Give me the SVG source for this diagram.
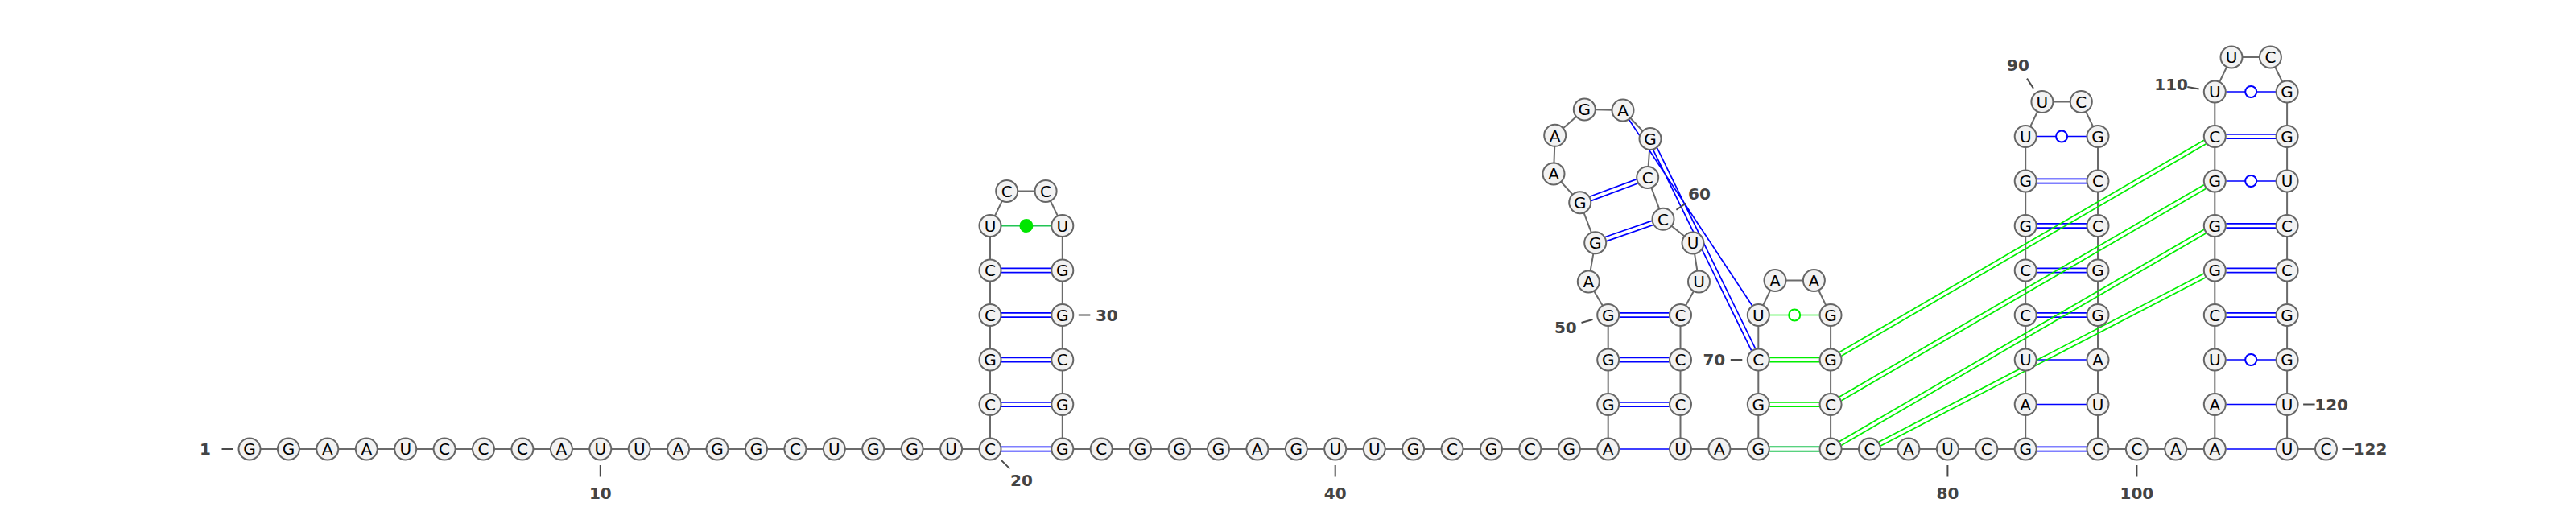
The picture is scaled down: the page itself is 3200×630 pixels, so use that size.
<svg xmlns="http://www.w3.org/2000/svg" width="3200" height="630" viewBox="0 0 3200 630">
<style>
.bb{fill:none;stroke:#6b6b6b;stroke-width:2}
.bp{stroke:#0000ff;stroke-width:1.7;fill:none}
.gp{stroke:#00ee00;stroke-width:1.7;fill:none}
.gd{stroke:#22c455;stroke-width:1.9;fill:none}
.wb{fill:#ffffff;stroke:#0000ff;stroke-width:2}
.wg{fill:#ffffff;stroke:#00ee00;stroke-width:2}
.nt circle{fill:#f2f2f2;stroke:#666666;stroke-width:2}
.nt text{font-family:"DejaVu Sans","Liberation Sans",sans-serif;font-size:20px;fill:#000;text-anchor:middle}
.lb line{stroke:#4a4a4a;stroke-width:2}
.lb text{font-family:"DejaVu Sans","Liberation Sans",sans-serif;font-size:20px;font-weight:bold;fill:#444;text-anchor:middle}
</style>
<rect width="3200" height="630" fill="#ffffff"/>
<g id="connectors">
<polyline class="bb" points="310,558 358.4,558 406.8,558 455.3,558 503.7,558 552.1,558 600.5,558 648.9,558 697.4,558 745.8,558 794.2,558 842.6,558 891,558 939.5,558 987.9,558 1036.3,558 1084.7,558 1133.1,558 1181.6,558 1230,558 1230,502.5 1230,447 1230,391.5 1230,336 1230,280.5 1250.7,237.5 1299.1,237.5 1319.8,280.5 1319.8,336 1319.8,391.5 1319.8,447 1319.8,502.5 1319.8,558 1368.2,558 1416.6,558 1465.1,558 1513.5,558 1561.9,558 1610.3,558 1658.7,558 1707.2,558 1755.6,558 1804,558 1852.4,558 1900.8,558 1949.3,558 1997.7,558 1997.7,502.5 1997.7,447 1997.7,391.5 1973.3,350 1981.7,301.7 1962.7,251.7 1930,216 1931.7,168.3 1968.3,136 2016,137 2050,172.5 2046.7,220.5 2066,272.3 2103,302 2110.5,350 2087.5,391.5 2087.5,447 2087.5,502.5 2087.5,558 2135.9,558 2184.3,558 2184.3,502.5 2184.3,447 2184.3,391.5 2205,348.5 2253.4,348.5 2274.1,391.5 2274.1,447 2274.1,502.5 2274.1,558 2322.5,558 2370.9,558 2419.4,558 2467.8,558 2516.2,558 2516.2,502.5 2516.2,447 2516.2,391.5 2516.2,336 2516.2,280.5 2516.2,225 2516.2,169.5 2536.9,126.5 2585.3,126.5 2606,169.5 2606,225 2606,280.5 2606,336 2606,391.5 2606,447 2606,502.5 2606,558 2654.4,558 2702.8,558 2751.3,558 2751.3,502.5 2751.3,447 2751.3,391.5 2751.3,336 2751.3,280.5 2751.3,225 2751.3,169.5 2751.3,114 2772,71 2820.4,71 2841.1,114 2841.1,169.5 2841.1,225 2841.1,280.5 2841.1,336 2841.1,391.5 2841.1,447 2841.1,502.5 2841.1,558 2889.5,558"/>
<!-- stem 1 -->
<path class="bp" d="M1244,555.3H1305.8M1244,560.7H1305.8M1244,499.8H1305.8M1244,505.2H1305.8M1244,444.3H1305.8M1244,449.7H1305.8M1244,388.8H1305.8M1244,394.2H1305.8M1244,333.3H1305.8M1244,338.7H1305.8"/>
<path class="gd" d="M1244,280.5H1305.8"/>
<circle cx="1274.9" cy="280.5" r="8.5" fill="#00e600"/>
<!-- stem 2 -->
<path class="bp" d="M2011.7,558H2073.5M2011.7,499.8H2073.5M2011.7,505.2H2073.5M2011.7,444.3H2073.5M2011.7,449.7H2073.5M2011.7,388.8H2073.5M2011.7,394.2H2073.5"/>
<path class="bp" d="M1976.74,249.33L2034.54,227.93M1974.86,244.27L2032.66,222.87M1995.81,299.64L2053.67,279.46M1994.03,294.54L2051.89,274.36"/>
<path class="bp" d="M2023.7,148.7L2176.6,379.8M2053.72,186.26L2175.72,435.62M2058.58,183.88L2180.58,433.24"/>
<!-- stem 4 -->
<path class="bp" d="M2530.2,555.3H2592M2530.2,560.7H2592M2530.2,502.5H2592M2530.2,447H2592M2530.2,388.8H2592M2530.2,394.2H2592M2530.2,333.3H2592M2530.2,338.7H2592M2530.2,277.8H2592M2530.2,283.2H2592M2530.2,222.3H2592M2530.2,227.7H2592M2530.2,169.5H2592"/>
<circle class="wb" cx="2561.1" cy="169.5" r="7"/>
<!-- stem 5 -->
<path class="bp" d="M2765.3,558H2827.1M2765.3,502.5H2827.1M2765.3,447H2827.1M2765.3,388.8H2827.1M2765.3,394.2H2827.1M2765.3,333.3H2827.1M2765.3,338.7H2827.1M2765.3,277.8H2827.1M2765.3,283.2H2827.1M2765.3,225H2827.1M2765.3,166.8H2827.1M2765.3,172.2H2827.1M2765.3,114H2827.1"/>
<circle class="wb" cx="2796.2" cy="447" r="7"/>
<circle class="wb" cx="2796.2" cy="225" r="7"/>
<circle class="wb" cx="2796.2" cy="114" r="7"/>
<!-- stem 3 (green) -->
<path class="gd" d="M2198.3,555.3H2260.1M2198.3,560.7H2260.1"/>
<path class="gp" d="M2198.3,499.8H2260.1M2198.3,505.2H2260.1M2198.3,444.3H2260.1M2198.3,449.7H2260.1M2198.3,391.5H2260.1"/>
<circle class="wg" cx="2229.2" cy="391.5" r="7"/>
<!-- long green pseudoknot -->
<path class="gp" d="M2287.56,442.33L2740.56,178.83M2284.84,437.67L2737.84,174.17M2287.56,497.83L2740.56,234.33M2284.84,493.17L2737.84,229.67M2287.56,553.33L2740.56,289.83M2284.84,548.67L2737.84,285.17M2336.17,553.96L2740.11,344.84M2333.69,549.16L2737.63,340.04"/>
</g>
<g id="n1" class="nt"><circle cx="310" cy="558" r="13.5"/><text x="310" y="565.2">G</text></g>
<g id="n2" class="nt"><circle cx="358.4" cy="558" r="13.5"/><text x="358.4" y="565.2">G</text></g>
<g id="n3" class="nt"><circle cx="406.8" cy="558" r="13.5"/><text x="406.8" y="565.2">A</text></g>
<g id="n4" class="nt"><circle cx="455.3" cy="558" r="13.5"/><text x="455.3" y="565.2">A</text></g>
<g id="n5" class="nt"><circle cx="503.7" cy="558" r="13.5"/><text x="503.7" y="565.2">U</text></g>
<g id="n6" class="nt"><circle cx="552.1" cy="558" r="13.5"/><text x="552.1" y="565.2">C</text></g>
<g id="n7" class="nt"><circle cx="600.5" cy="558" r="13.5"/><text x="600.5" y="565.2">C</text></g>
<g id="n8" class="nt"><circle cx="648.9" cy="558" r="13.5"/><text x="648.9" y="565.2">C</text></g>
<g id="n9" class="nt"><circle cx="697.4" cy="558" r="13.5"/><text x="697.4" y="565.2">A</text></g>
<g id="n10" class="nt"><circle cx="745.8" cy="558" r="13.5"/><text x="745.8" y="565.2">U</text></g>
<g id="n11" class="nt"><circle cx="794.2" cy="558" r="13.5"/><text x="794.2" y="565.2">U</text></g>
<g id="n12" class="nt"><circle cx="842.6" cy="558" r="13.5"/><text x="842.6" y="565.2">A</text></g>
<g id="n13" class="nt"><circle cx="891" cy="558" r="13.5"/><text x="891" y="565.2">G</text></g>
<g id="n14" class="nt"><circle cx="939.5" cy="558" r="13.5"/><text x="939.5" y="565.2">G</text></g>
<g id="n15" class="nt"><circle cx="987.9" cy="558" r="13.5"/><text x="987.9" y="565.2">C</text></g>
<g id="n16" class="nt"><circle cx="1036.3" cy="558" r="13.5"/><text x="1036.3" y="565.2">U</text></g>
<g id="n17" class="nt"><circle cx="1084.7" cy="558" r="13.5"/><text x="1084.7" y="565.2">G</text></g>
<g id="n18" class="nt"><circle cx="1133.1" cy="558" r="13.5"/><text x="1133.1" y="565.2">G</text></g>
<g id="n19" class="nt"><circle cx="1181.6" cy="558" r="13.5"/><text x="1181.6" y="565.2">U</text></g>
<g id="n20" class="nt"><circle cx="1230" cy="558" r="13.5"/><text x="1230" y="565.2">C</text></g>
<g id="n21" class="nt"><circle cx="1230" cy="502.5" r="13.5"/><text x="1230" y="509.7">C</text></g>
<g id="n22" class="nt"><circle cx="1230" cy="447" r="13.5"/><text x="1230" y="454.2">G</text></g>
<g id="n23" class="nt"><circle cx="1230" cy="391.5" r="13.5"/><text x="1230" y="398.7">C</text></g>
<g id="n24" class="nt"><circle cx="1230" cy="336" r="13.5"/><text x="1230" y="343.2">C</text></g>
<g id="n25" class="nt"><circle cx="1230" cy="280.5" r="13.5"/><text x="1230" y="287.7">U</text></g>
<g id="n26" class="nt"><circle cx="1250.7" cy="237.5" r="13.5"/><text x="1250.7" y="244.7">C</text></g>
<g id="n27" class="nt"><circle cx="1299.1" cy="237.5" r="13.5"/><text x="1299.1" y="244.7">C</text></g>
<g id="n28" class="nt"><circle cx="1319.8" cy="280.5" r="13.5"/><text x="1319.8" y="287.7">U</text></g>
<g id="n29" class="nt"><circle cx="1319.8" cy="336" r="13.5"/><text x="1319.8" y="343.2">G</text></g>
<g id="n30" class="nt"><circle cx="1319.8" cy="391.5" r="13.5"/><text x="1319.8" y="398.7">G</text></g>
<g id="n31" class="nt"><circle cx="1319.8" cy="447" r="13.5"/><text x="1319.8" y="454.2">C</text></g>
<g id="n32" class="nt"><circle cx="1319.8" cy="502.5" r="13.5"/><text x="1319.8" y="509.7">G</text></g>
<g id="n33" class="nt"><circle cx="1319.8" cy="558" r="13.5"/><text x="1319.8" y="565.2">G</text></g>
<g id="n34" class="nt"><circle cx="1368.2" cy="558" r="13.5"/><text x="1368.2" y="565.2">C</text></g>
<g id="n35" class="nt"><circle cx="1416.6" cy="558" r="13.5"/><text x="1416.6" y="565.2">G</text></g>
<g id="n36" class="nt"><circle cx="1465.1" cy="558" r="13.5"/><text x="1465.1" y="565.2">G</text></g>
<g id="n37" class="nt"><circle cx="1513.5" cy="558" r="13.5"/><text x="1513.5" y="565.2">G</text></g>
<g id="n38" class="nt"><circle cx="1561.9" cy="558" r="13.5"/><text x="1561.9" y="565.2">A</text></g>
<g id="n39" class="nt"><circle cx="1610.3" cy="558" r="13.5"/><text x="1610.3" y="565.2">G</text></g>
<g id="n40" class="nt"><circle cx="1658.7" cy="558" r="13.5"/><text x="1658.7" y="565.2">U</text></g>
<g id="n41" class="nt"><circle cx="1707.2" cy="558" r="13.5"/><text x="1707.2" y="565.2">U</text></g>
<g id="n42" class="nt"><circle cx="1755.6" cy="558" r="13.5"/><text x="1755.6" y="565.2">G</text></g>
<g id="n43" class="nt"><circle cx="1804" cy="558" r="13.5"/><text x="1804" y="565.2">C</text></g>
<g id="n44" class="nt"><circle cx="1852.4" cy="558" r="13.5"/><text x="1852.4" y="565.2">G</text></g>
<g id="n45" class="nt"><circle cx="1900.8" cy="558" r="13.5"/><text x="1900.8" y="565.2">C</text></g>
<g id="n46" class="nt"><circle cx="1949.3" cy="558" r="13.5"/><text x="1949.3" y="565.2">G</text></g>
<g id="n47" class="nt"><circle cx="1997.7" cy="558" r="13.5"/><text x="1997.7" y="565.2">A</text></g>
<g id="n48" class="nt"><circle cx="1997.7" cy="502.5" r="13.5"/><text x="1997.7" y="509.7">G</text></g>
<g id="n49" class="nt"><circle cx="1997.7" cy="447" r="13.5"/><text x="1997.7" y="454.2">G</text></g>
<g id="n50" class="nt"><circle cx="1997.7" cy="391.5" r="13.5"/><text x="1997.7" y="398.7">G</text></g>
<g id="n51" class="nt"><circle cx="1973.3" cy="350" r="13.5"/><text x="1973.3" y="357.2">A</text></g>
<g id="n52" class="nt"><circle cx="1981.7" cy="301.7" r="13.5"/><text x="1981.7" y="308.9">G</text></g>
<g id="n53" class="nt"><circle cx="1962.7" cy="251.7" r="13.5"/><text x="1962.7" y="258.9">G</text></g>
<g id="n54" class="nt"><circle cx="1930" cy="216" r="13.5"/><text x="1930" y="223.2">A</text></g>
<g id="n55" class="nt"><circle cx="1931.7" cy="168.3" r="13.5"/><text x="1931.7" y="175.5">A</text></g>
<g id="n56" class="nt"><circle cx="1968.3" cy="136" r="13.5"/><text x="1968.3" y="143.2">G</text></g>
<g id="n57" class="nt"><circle cx="2016" cy="137" r="13.5"/><text x="2016" y="144.2">A</text></g>
<g id="n58" class="nt"><circle cx="2050" cy="172.5" r="13.5"/><text x="2050" y="179.7">G</text></g>
<g id="n59" class="nt"><circle cx="2046.7" cy="220.5" r="13.5"/><text x="2046.7" y="227.7">C</text></g>
<g id="n60" class="nt"><circle cx="2066" cy="272.3" r="13.5"/><text x="2066" y="279.5">C</text></g>
<g id="n61" class="nt"><circle cx="2103" cy="302" r="13.5"/><text x="2103" y="309.2">U</text></g>
<g id="n62" class="nt"><circle cx="2110.5" cy="350" r="13.5"/><text x="2110.5" y="357.2">U</text></g>
<g id="n63" class="nt"><circle cx="2087.5" cy="391.5" r="13.5"/><text x="2087.5" y="398.7">C</text></g>
<g id="n64" class="nt"><circle cx="2087.5" cy="447" r="13.5"/><text x="2087.5" y="454.2">C</text></g>
<g id="n65" class="nt"><circle cx="2087.5" cy="502.5" r="13.5"/><text x="2087.5" y="509.7">C</text></g>
<g id="n66" class="nt"><circle cx="2087.5" cy="558" r="13.5"/><text x="2087.5" y="565.2">U</text></g>
<g id="n67" class="nt"><circle cx="2135.9" cy="558" r="13.5"/><text x="2135.9" y="565.2">A</text></g>
<g id="n68" class="nt"><circle cx="2184.3" cy="558" r="13.5"/><text x="2184.3" y="565.2">G</text></g>
<g id="n69" class="nt"><circle cx="2184.3" cy="502.5" r="13.5"/><text x="2184.3" y="509.7">G</text></g>
<g id="n70" class="nt"><circle cx="2184.3" cy="447" r="13.5"/><text x="2184.3" y="454.2">C</text></g>
<g id="n71" class="nt"><circle cx="2184.3" cy="391.5" r="13.5"/><text x="2184.3" y="398.7">U</text></g>
<g id="n72" class="nt"><circle cx="2205" cy="348.5" r="13.5"/><text x="2205" y="355.7">A</text></g>
<g id="n73" class="nt"><circle cx="2253.4" cy="348.5" r="13.5"/><text x="2253.4" y="355.7">A</text></g>
<g id="n74" class="nt"><circle cx="2274.1" cy="391.5" r="13.5"/><text x="2274.1" y="398.7">G</text></g>
<g id="n75" class="nt"><circle cx="2274.1" cy="447" r="13.5"/><text x="2274.1" y="454.2">G</text></g>
<g id="n76" class="nt"><circle cx="2274.1" cy="502.5" r="13.5"/><text x="2274.1" y="509.7">C</text></g>
<g id="n77" class="nt"><circle cx="2274.1" cy="558" r="13.5"/><text x="2274.1" y="565.2">C</text></g>
<g id="n78" class="nt"><circle cx="2322.5" cy="558" r="13.5"/><text x="2322.5" y="565.2">C</text></g>
<g id="n79" class="nt"><circle cx="2370.9" cy="558" r="13.5"/><text x="2370.9" y="565.2">A</text></g>
<g id="n80" class="nt"><circle cx="2419.4" cy="558" r="13.5"/><text x="2419.4" y="565.2">U</text></g>
<g id="n81" class="nt"><circle cx="2467.8" cy="558" r="13.5"/><text x="2467.8" y="565.2">C</text></g>
<g id="n82" class="nt"><circle cx="2516.2" cy="558" r="13.5"/><text x="2516.2" y="565.2">G</text></g>
<g id="n83" class="nt"><circle cx="2516.2" cy="502.5" r="13.5"/><text x="2516.2" y="509.7">A</text></g>
<g id="n84" class="nt"><circle cx="2516.2" cy="447" r="13.5"/><text x="2516.2" y="454.2">U</text></g>
<g id="n85" class="nt"><circle cx="2516.2" cy="391.5" r="13.5"/><text x="2516.2" y="398.7">C</text></g>
<g id="n86" class="nt"><circle cx="2516.2" cy="336" r="13.5"/><text x="2516.2" y="343.2">C</text></g>
<g id="n87" class="nt"><circle cx="2516.2" cy="280.5" r="13.5"/><text x="2516.2" y="287.7">G</text></g>
<g id="n88" class="nt"><circle cx="2516.2" cy="225" r="13.5"/><text x="2516.2" y="232.2">G</text></g>
<g id="n89" class="nt"><circle cx="2516.2" cy="169.5" r="13.5"/><text x="2516.2" y="176.7">U</text></g>
<g id="n90" class="nt"><circle cx="2536.9" cy="126.5" r="13.5"/><text x="2536.9" y="133.7">U</text></g>
<g id="n91" class="nt"><circle cx="2585.3" cy="126.5" r="13.5"/><text x="2585.3" y="133.7">C</text></g>
<g id="n92" class="nt"><circle cx="2606" cy="169.5" r="13.5"/><text x="2606" y="176.7">G</text></g>
<g id="n93" class="nt"><circle cx="2606" cy="225" r="13.5"/><text x="2606" y="232.2">C</text></g>
<g id="n94" class="nt"><circle cx="2606" cy="280.5" r="13.5"/><text x="2606" y="287.7">C</text></g>
<g id="n95" class="nt"><circle cx="2606" cy="336" r="13.5"/><text x="2606" y="343.2">G</text></g>
<g id="n96" class="nt"><circle cx="2606" cy="391.5" r="13.5"/><text x="2606" y="398.7">G</text></g>
<g id="n97" class="nt"><circle cx="2606" cy="447" r="13.5"/><text x="2606" y="454.2">A</text></g>
<g id="n98" class="nt"><circle cx="2606" cy="502.5" r="13.5"/><text x="2606" y="509.7">U</text></g>
<g id="n99" class="nt"><circle cx="2606" cy="558" r="13.5"/><text x="2606" y="565.2">C</text></g>
<g id="n100" class="nt"><circle cx="2654.4" cy="558" r="13.5"/><text x="2654.4" y="565.2">C</text></g>
<g id="n101" class="nt"><circle cx="2702.8" cy="558" r="13.5"/><text x="2702.8" y="565.2">A</text></g>
<g id="n102" class="nt"><circle cx="2751.3" cy="558" r="13.5"/><text x="2751.3" y="565.2">A</text></g>
<g id="n103" class="nt"><circle cx="2751.3" cy="502.5" r="13.5"/><text x="2751.3" y="509.7">A</text></g>
<g id="n104" class="nt"><circle cx="2751.3" cy="447" r="13.5"/><text x="2751.3" y="454.2">U</text></g>
<g id="n105" class="nt"><circle cx="2751.3" cy="391.5" r="13.5"/><text x="2751.3" y="398.7">C</text></g>
<g id="n106" class="nt"><circle cx="2751.3" cy="336" r="13.5"/><text x="2751.3" y="343.2">G</text></g>
<g id="n107" class="nt"><circle cx="2751.3" cy="280.5" r="13.5"/><text x="2751.3" y="287.7">G</text></g>
<g id="n108" class="nt"><circle cx="2751.3" cy="225" r="13.5"/><text x="2751.3" y="232.2">G</text></g>
<g id="n109" class="nt"><circle cx="2751.3" cy="169.5" r="13.5"/><text x="2751.3" y="176.7">C</text></g>
<g id="n110" class="nt"><circle cx="2751.3" cy="114" r="13.5"/><text x="2751.3" y="121.2">U</text></g>
<g id="n111" class="nt"><circle cx="2772" cy="71" r="13.5"/><text x="2772" y="78.2">U</text></g>
<g id="n112" class="nt"><circle cx="2820.4" cy="71" r="13.5"/><text x="2820.4" y="78.2">C</text></g>
<g id="n113" class="nt"><circle cx="2841.1" cy="114" r="13.5"/><text x="2841.1" y="121.2">G</text></g>
<g id="n114" class="nt"><circle cx="2841.1" cy="169.5" r="13.5"/><text x="2841.1" y="176.7">G</text></g>
<g id="n115" class="nt"><circle cx="2841.1" cy="225" r="13.5"/><text x="2841.1" y="232.2">U</text></g>
<g id="n116" class="nt"><circle cx="2841.1" cy="280.5" r="13.5"/><text x="2841.1" y="287.7">C</text></g>
<g id="n117" class="nt"><circle cx="2841.1" cy="336" r="13.5"/><text x="2841.1" y="343.2">C</text></g>
<g id="n118" class="nt"><circle cx="2841.1" cy="391.5" r="13.5"/><text x="2841.1" y="398.7">G</text></g>
<g id="n119" class="nt"><circle cx="2841.1" cy="447" r="13.5"/><text x="2841.1" y="454.2">G</text></g>
<g id="n120" class="nt"><circle cx="2841.1" cy="502.5" r="13.5"/><text x="2841.1" y="509.7">U</text></g>
<g id="n121" class="nt"><circle cx="2841.1" cy="558" r="13.5"/><text x="2841.1" y="565.2">U</text></g>
<g id="n122" class="nt"><circle cx="2889.5" cy="558" r="13.5"/><text x="2889.5" y="565.2">C</text></g>
<g id="labels" class="lb">
<line x1="290" y1="558" x2="275.5" y2="558"/><text x="255" y="565">1</text>
<line x1="745.8" y1="578" x2="745.8" y2="592.5"/><text x="745.8" y="620">10</text>
<line x1="1244.1" y1="572.1" x2="1254.4" y2="582.4"/><text x="1268.9" y="604">20</text>
<line x1="1339.8" y1="391.5" x2="1354.3" y2="391.5"/><text x="1374.8" y="398.5">30</text>
<line x1="1658.7" y1="578" x2="1658.7" y2="592.5"/><text x="1658.7" y="620">40</text>
<line x1="1978.5" y1="397" x2="1964.5" y2="401"/><text x="1944.8" y="413.6">50</text>
<line x1="2082.4" y1="260.8" x2="2094.3" y2="252.5"/><text x="2111" y="247.8">60</text>
<line x1="2164.3" y1="447" x2="2149.8" y2="447"/><text x="2129.3" y="454">70</text>
<line x1="2419.4" y1="578" x2="2419.4" y2="592.5"/><text x="2419.4" y="620">80</text>
<line x1="2526" y1="109.8" x2="2518" y2="97.6"/><text x="2506.9" y="87.5">90</text>
<line x1="2654.4" y1="578" x2="2654.4" y2="592.5"/><text x="2654.4" y="620">100</text>
<line x1="2731.6" y1="110.6" x2="2717.3" y2="108.1"/><text x="2697.1" y="111.7">110</text>
<line x1="2861.1" y1="502.5" x2="2875.6" y2="502.5"/><text x="2896.1" y="509.5">120</text>
<line x1="2909.5" y1="558" x2="2924" y2="558"/><text x="2944.5" y="565">122</text>
</g>
</svg>
